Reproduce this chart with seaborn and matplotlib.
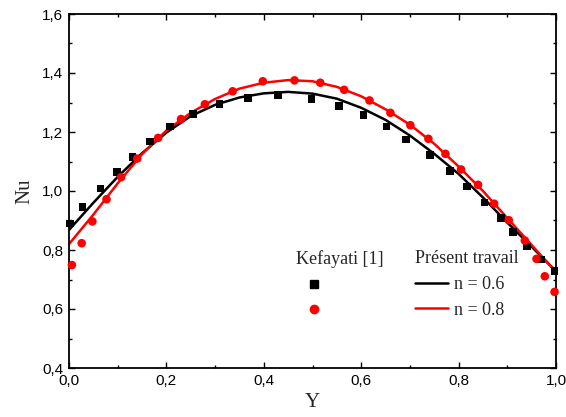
import numpy as np
import pandas as pd
import seaborn as sns
import matplotlib
matplotlib.use("Agg")
import matplotlib.pyplot as plt
from matplotlib.ticker import MultipleLocator, FuncFormatter
from matplotlib.lines import Line2D

# Kefayati [1] reference points, n = 0.6 (squares)
ref_y_06 = [0.002, 0.028, 0.065, 0.099, 0.130, 0.166, 0.208, 0.255, 0.309, 0.367,
            0.429, 0.498, 0.554, 0.605, 0.652, 0.692, 0.741, 0.782, 0.817, 0.853,
            0.887, 0.912, 0.940, 0.969, 0.997]
ref_nu_06 = [0.890, 0.945, 1.008, 1.064, 1.115, 1.168, 1.219, 1.260, 1.294, 1.315,
             1.325, 1.312, 1.288, 1.257, 1.219, 1.174, 1.122, 1.068, 1.015, 0.961,
             0.908, 0.860, 0.812, 0.768, 0.728]

# Kefayati [1] reference points, n = 0.8 (circles)
ref_y_08 = [0.006, 0.026, 0.048, 0.077, 0.107, 0.140, 0.183, 0.230, 0.279, 0.336,
            0.398, 0.463, 0.516, 0.565, 0.617, 0.660, 0.701, 0.738, 0.773, 0.805,
            0.840, 0.873, 0.903, 0.936, 0.960, 0.977, 0.997]
ref_nu_08 = [0.749, 0.823, 0.897, 0.972, 1.047, 1.110, 1.180, 1.244, 1.294, 1.338,
             1.372, 1.375, 1.367, 1.343, 1.307, 1.265, 1.223, 1.177, 1.126, 1.073,
             1.021, 0.957, 0.901, 0.832, 0.770, 0.711, 0.658]

# Present work profiles
y_grid = [0.00, 0.05, 0.10, 0.15, 0.20, 0.25, 0.30, 0.35, 0.40, 0.45, 0.50,
          0.55, 0.60, 0.65, 0.70, 0.75, 0.80, 0.85, 0.90, 0.95, 1.00]
nu_06 = [0.868, 0.960, 1.048, 1.128, 1.198, 1.254, 1.292, 1.317, 1.331, 1.336, 1.330,
         1.313, 1.282, 1.241, 1.188, 1.126, 1.058, 0.978, 0.893, 0.811, 0.728]
nu_08 = [0.820, 0.920, 1.026, 1.125, 1.205, 1.265, 1.312, 1.347, 1.367, 1.376, 1.372,
         1.353, 1.321, 1.277, 1.225, 1.160, 1.083, 1.000, 0.908, 0.817, 0.725]

x_ticks = [0.0, 0.2, 0.4, 0.6, 0.8, 1.0]
y_ticks = [0.4, 0.6, 0.8, 1.0, 1.2, 1.4, 1.6]

sns.set_theme(style="ticks")
plt.rcParams["font.family"] = ["Liberation Sans", "DejaVu Sans"]

fig = plt.figure(figsize=(5.66, 4.17), dpi=100)
ax = fig.add_axes([69 / 566, 1 - 368 / 417, 487 / 566, 354 / 417])

lines = pd.DataFrame({"Y": y_grid * 2, "Nu": nu_06 + nu_08,
                      "n": ["0.6"] * len(y_grid) + ["0.8"] * len(y_grid)})
sns.lineplot(data=lines, x="Y", y="Nu", hue="n", palette={"0.6": "black", "0.8": "#ff0000"},
             linewidth=1.8, legend=False, ax=ax, sort=True, zorder=2)

sns.scatterplot(x=ref_y_06, y=ref_nu_06, marker="s", color="black", s=30,
                edgecolor="none", ax=ax, zorder=3, clip_on=False)
sns.scatterplot(x=ref_y_08, y=ref_nu_08, marker="o", color="#ff0000", s=38,
                edgecolor="none", ax=ax, zorder=3, clip_on=False)

ax.set_xlim(0, 1)
ax.set_ylim(0.4, 1.6)
ax.set_xticks(x_ticks)
ax.set_yticks(y_ticks)
ax.xaxis.set_minor_locator(MultipleLocator(0.1))
ax.yaxis.set_minor_locator(MultipleLocator(0.1))
comma = FuncFormatter(lambda v, p: f"{v:.1f}".replace(".", ","))
ax.xaxis.set_major_formatter(comma)
ax.yaxis.set_major_formatter(comma)
ax.tick_params(which="both", direction="in", top=True, right=True, colors="black",
               labelsize=11, width=1.0)
ax.tick_params(which="major", length=4.5, pad=4)
ax.tick_params(which="minor", length=2.5)
for sp in ax.spines.values():
    sp.set_visible(True)
    sp.set_linewidth(1.3)
    sp.set_color("black")

serif = ["Liberation Serif", "DejaVu Serif"]
ax.set_xlabel("Y", family=serif, fontsize=15, labelpad=4)
ax.set_ylabel("Nu", family=serif, fontsize=15, labelpad=6)

# Legend: reference markers and present-work curves in two columns
h_ref = [Line2D([], [], marker="s", color="black", linestyle="none", markersize=5.5),
         Line2D([], [], marker="o", color="#ff0000", linestyle="none", markersize=6)]
leg1 = ax.legend(h_ref, ["", ""], title="Kefayati [1]", alignment="left",
                 loc="upper left", bbox_to_anchor=(0.466, 0.332), frameon=False,
                 borderpad=0, borderaxespad=0, handlelength=2.0, handletextpad=0,
                 labelspacing=0.48,
                 prop={"family": serif, "size": 13},
                 title_fontproperties={"family": serif, "size": 13})
ax.add_artist(leg1)
h_cur = [Line2D([], [], color="black", linewidth=1.8),
         Line2D([], [], color="#ff0000", linewidth=1.8)]
ax.legend(h_cur, ["n = 0.6", "n = 0.8"], title="Présent travail", alignment="left",
          loc="upper left", bbox_to_anchor=(0.71, 0.332), frameon=False,
          borderpad=0, borderaxespad=0, handlelength=1.85, handletextpad=0.3,
          labelspacing=0.48,
          prop={"family": serif, "size": 13},
          title_fontproperties={"family": serif, "size": 13})

fig.savefig("out.png", dpi=100)
